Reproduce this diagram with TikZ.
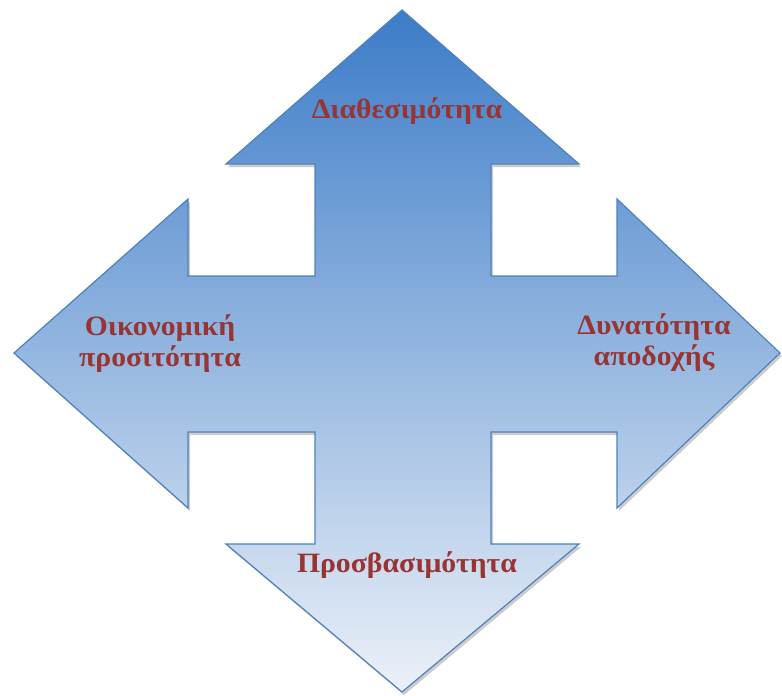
\documentclass[tikz,border=0pt]{standalone}
\usepackage{fontspec}
\setmainfont{Liberation Serif}
\usetikzlibrary{shadows}
\definecolor{arrowtop}{RGB}{60,124,200}
\definecolor{arrowmid}{RGB}{122,156,196}
\definecolor{arrowbot}{RGB}{236,241,248}
\definecolor{arrowline}{RGB}{79,129,189}
\definecolor{labelred}{RGB}{152,52,50}
\tikzset{
  label text/.style={text=labelred, font=\fontsize{28}{31}\selectfont\bfseries, align=center, inner sep=0pt, xscale=1.06},
  big arrow/.style={draw=arrowline, line width=1.2pt, line join=miter,
    top color=arrowtop, middle color=arrowmid, bottom color=arrowbot,
    drop shadow={shadow xshift=2pt, shadow yshift=-3pt, opacity=0.2, fill=black}}
}
\begin{document}
\begin{tikzpicture}[x=1pt, y=-1pt]
\useasboundingbox (0,0) rectangle (782,696);
\path[big arrow]
  (402,10) -- (579,164) -- (491,164) -- (491,276) -- (617,276) -- (617,199)
  -- (780,353) -- (617,508) -- (617,432) -- (491,432) -- (491,544) -- (579,544)
  -- (402,692) -- (226,544) -- (315,544) -- (315,432) -- (188,432) -- (188,508)
  -- (14,353) -- (188,199) -- (188,276) -- (315,276) -- (315,164) -- (226,164) -- cycle;
\node[label text, anchor=base] (top) at (407,118) {Διαθεσιμότητα};
\node[label text] (left) at (160,344) {Οικονομική\\προσιτότητα};
\node[label text] (right) at (654,343) {Δυνατότητα\\αποδοχής};
\node[label text, anchor=base] (bottom) at (407,572) {Προσβασιμότητα};
\end{tikzpicture}
\end{document}
